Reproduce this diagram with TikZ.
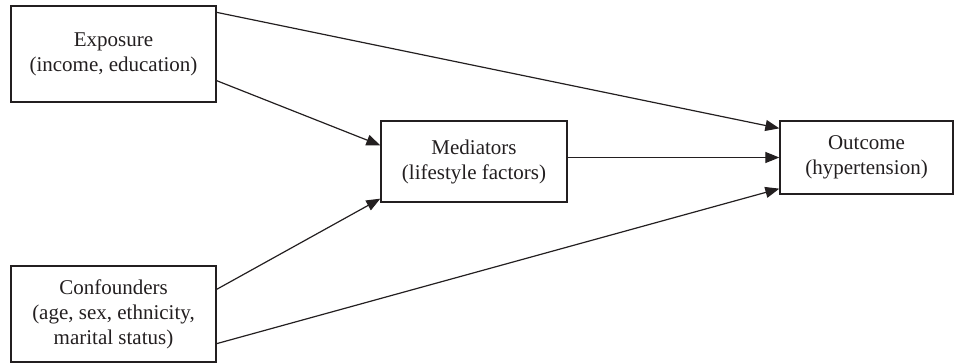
\documentclass[tikz,border=0pt]{standalone}
\usepackage{fontspec}
\setmainfont{Liberation Serif}
\usetikzlibrary{arrows.meta}
\definecolor{inkgray}{RGB}{35,31,32}
\newcommand{\factor}[5]{%
 \node[box, minimum width=#3, minimum height=#4] ({#1}) at ({#2}) {#5};%
}

\begin{document}
\begin{tikzpicture}[x=1pt, y=-1pt,
   box/.style={draw=inkgray, line width=1.3pt, align=center, inner sep=0pt,
      text=inkgray, font=\fontsize{21}{25}\selectfont},
   link/.style={draw=inkgray, line width=1.2pt, -{Triangle[length=14pt,width=11pt]}}]
   \useasboundingbox (0,0) rectangle (954,364);
   \factor{expo}{113.5,54}{205pt}{96pt}{Exposure\\(income, education)};
   \factor{conf}{113.5,314}{205pt}{96pt}{Confounders\\(age, sex, ethnicity,\\marital status)};
   \factor{medi}{474,161.5}{186pt}{81pt}{Mediators\\(lifestyle factors)};
   \factor{outc}{866.5,157.5}{173pt}{73pt}{Outcome\\(hypertension)};
   \path[link] ([yshift=-7pt]expo.north east) -- ([yshift=-8pt]outc.north west);
   \path[link] ([yshift=22pt]expo.south east) -- ([yshift=-25pt]medi.north west);
   \path[link] (medi.east |- outc.west) -- (outc.west);
   \path[link] ([yshift=-24pt]conf.north east) -- ([yshift=4pt]medi.south west);
   \path[link] ([yshift=19pt]conf.south east) -- ([yshift=6pt]outc.south west);
\end{tikzpicture}
\end{document}
